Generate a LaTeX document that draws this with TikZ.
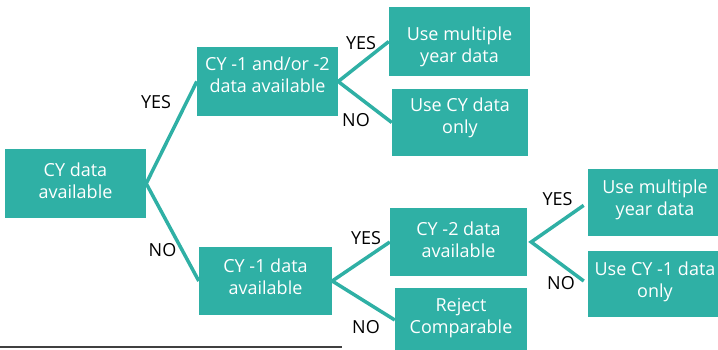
\documentclass[tikz,border=0pt]{standalone}
\usepackage{fontspec}
\setmainfont{Open Sans}
\definecolor{tealbox}{HTML}{2FB0A5}
\definecolor{rulegray}{HTML}{404040}
\tikzset{
  decision/.style={rectangle, fill=tealbox, text=white, align=center, inner sep=0pt, font=\fontsize{18}{22}\selectfont, text depth=0pt},
  branch/.style={draw=tealbox, line width=3.5pt, line join=miter},
  answer/.style={inner sep=0pt, font=\fontsize{18}{22}\selectfont}
}
\begin{document}
\begin{tikzpicture}[x=1pt,y=-1pt]
\useasboundingbox (0,0) rectangle (718,349);

\node (cy) [decision, minimum width=141pt, minimum height=69pt, text height=29pt] at (75.5,183.5) {CY data\\available};

\node (cy12) [decision, minimum width=141pt, minimum height=69pt, text height=21pt] at (267.5,81.5) {CY -1 and/or -2\\data available};
\node (multiA) [decision, minimum width=141pt, minimum height=69pt, text height=41pt] at (459.5,41.5) {Use multiple\\year data};
\node (cyonly) [decision, minimum width=136pt, minimum height=67pt, text height=21pt] at (460,122.5) {Use CY data\\only};

\node (cy1) [decision, minimum width=133pt, minimum height=68pt, text height=26pt] at (265.5,281) {CY -1 data\\available};
\node (cy2) [decision, minimum width=137pt, minimum height=68pt, text height=30pt] at (458.5,242) {CY -2 data\\available};
\node (reject) [decision, minimum width=132pt, minimum height=64pt, text height=26pt] at (461,320) {Reject\\Comparable};

\node (multiB) [decision, minimum width=134pt, minimum height=67pt, text height=25pt] at (655,202.5) {Use multiple\\year data};
\node (cy1only) [decision, minimum width=134pt, minimum height=66pt, text height=26pt] at (655,284) {Use CY -1 data\\only};

% branches
\draw[branch] (cy12.west) -- (cy.east) -- (cy1.west);
\draw[branch] (multiA.west) -- (cy12.east) -- (cyonly.west);
\draw[branch] (cy2.west) -- (cy1.east) -- (reject.west);
\draw[branch, shorten <=5pt, shorten >=5pt] (multiB.west) -- ([xshift=4pt]cy2.east) -- (cy1only.west);

% answers
\node (yesA) [answer] at (156,102) {YES};
\node (noA) [answer] at (162.5,250) {NO};
\node (yesB) [answer] at (361,43) {YES};
\node (noB) [answer] at (356,120.5) {NO};
\node (yesC) [answer] at (366,238.5) {YES};
\node (noC) [answer] at (366,327) {NO};
\node (yesD) [answer] at (557.5,199) {YES};
\node (noD) [answer] at (561,283.5) {NO};

\coordinate (ruleL) at (0,347);
\coordinate (ruleR) at (342,347);
\draw[rulegray, line width=2pt] (ruleL) -- (ruleR);

\end{tikzpicture}
\end{document}
